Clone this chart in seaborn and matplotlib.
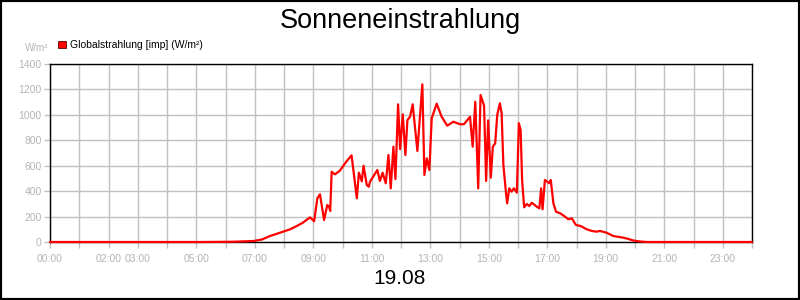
import matplotlib
matplotlib.use("Agg")
import matplotlib.pyplot as plt
from matplotlib.patches import Rectangle
import seaborn as sns
import pandas as pd

# ---- data (hours of day, W/m²) ----
hours = [0.0, 5.13, 6.26, 6.97, 7.25, 7.52, 7.76, 8.21, 8.44, 8.65, 8.89, 9.03, 9.14, 9.23,
         9.37, 9.48, 9.54, 9.58, 9.63, 9.74, 9.91, 10.12, 10.31, 10.49, 10.56, 10.66, 10.72,
         10.83, 10.90, 10.94, 11.19, 11.28, 11.37, 11.48, 11.57, 11.65, 11.74, 11.81, 11.90,
         11.97, 12.06, 12.15, 12.22, 12.31, 12.40, 12.56, 12.73, 12.80, 12.88, 12.97, 13.05,
         13.22, 13.39, 13.58, 13.79, 14.02, 14.15, 14.36, 14.45, 14.54, 14.64, 14.72, 14.84,
         14.91, 14.98, 15.07, 15.14, 15.22, 15.29, 15.38, 15.44, 15.50, 15.59, 15.63, 15.70,
         15.78, 15.86, 15.96, 16.03, 16.09, 16.14, 16.21, 16.30, 16.39, 16.47, 16.64, 16.73,
         16.79, 16.84, 16.92, 17.00, 17.07, 17.12, 17.21, 17.30, 17.44, 17.61, 17.72, 17.84,
         17.98, 18.14, 18.35, 18.52, 18.69, 18.80, 19.03, 19.26, 19.60, 19.77, 19.94, 20.17,
         20.41, 24.0]
radiation = [0, 0, 2, 8, 20, 47, 65, 100, 126, 153, 194, 163, 344, 375,
             173, 291, 278, 244, 553, 532, 561, 629, 682, 344, 545, 477, 600,
             448, 435, 474, 566, 480, 545, 462, 684, 422, 750, 495, 1083,
             731, 1004, 684, 960, 985, 1083, 716, 1240, 527, 658, 566, 973,
             1088, 985, 915, 946, 926, 926, 985, 750, 1103, 422, 1156, 1072,
             480, 957, 506, 750, 776, 999, 1091, 1012, 606, 383, 304, 422,
             396, 422, 388, 934, 881, 488, 273, 299, 283, 309, 278, 265,
             422, 257, 488, 474, 462, 488, 304, 238, 226, 199, 179, 186,
             134, 126, 100, 87, 81, 87, 73, 47, 34, 24, 12, 4,
             0, 0]

x_ticks = list(range(25))
x_tick_labels = ["00:00", "", "02:00", "03:00", "", "05:00", "", "07:00", "", "09:00", "",
                 "11:00", "", "13:00", "", "15:00", "", "17:00", "", "19:00", "", "21:00",
                 "", "23:00", ""]
y_ticks = [0, 200, 400, 600, 800, 1000, 1200, 1400]

title = "Sonneneinstrahlung"
date_label = "19.08"
unit_label = "W/m²"
series_label = "Globalstrahlung [imp] (W/m²)"

sns.set_style("white")
plt.rcParams["font.family"] = ["Liberation Sans", "DejaVu Sans"]

df = pd.DataFrame({"hour": hours, "value": radiation})

fig = plt.figure(figsize=(8, 3), dpi=100)
ax = fig.add_axes([50 / 800, 58 / 300, 702 / 800, 178 / 300])

sns.lineplot(data=df, x="hour", y="value", ax=ax, color="#ff0000", linewidth=1.6,
             zorder=5, clip_on=False)

ax.set_xlim(0, 24)
ax.set_ylim(0, 1400)
ax.set_xticks(x_ticks)
ax.set_xticklabels(x_tick_labels)
ax.set_yticks(y_ticks)
ax.set_yticklabels([str(v) for v in y_ticks])
ax.set_xlabel("")
ax.set_ylabel("")

grid_c = "#c0c0c0"
ax.grid(True, color=grid_c, linewidth=1)
ax.set_axisbelow(True)
for s in ax.spines.values():
    s.set_color("black")
    s.set_linewidth(1)
ax.tick_params(axis="both", which="both", length=4, width=1, color=grid_c,
               labelcolor="#b4b4b4", labelsize=7.5, direction="out")
ax.tick_params(axis="x", pad=5)
ax.tick_params(axis="y", pad=2)
ax.tick_params(bottom=True, left=True)

fig.text(400 / 800, 1 - 28 / 300, title, ha="center", va="baseline", fontsize=19.5, color="black")
fig.text(400 / 800, 16 / 300, date_label, ha="center", va="baseline", fontsize=15, color="black")
fig.text(48 / 800, 1 - 51 / 300, unit_label, ha="right", va="baseline", fontsize=7, color="#b4b4b4")
fig.patches.append(Rectangle((58 / 800, 1 - 48 / 300), 8 / 800, 7 / 300, transform=fig.transFigure,
                             facecolor="#ff0000", edgecolor="#600000", linewidth=0.6))
fig.text(70 / 800, 1 - 48.5 / 300, series_label, ha="left", va="baseline", fontsize=7.5, color="black")

fig.patches.append(Rectangle((0, 0), 1, 1, transform=fig.transFigure, fill=False,
                             edgecolor="black", linewidth=3))

fig.savefig("out.png", dpi=100)
